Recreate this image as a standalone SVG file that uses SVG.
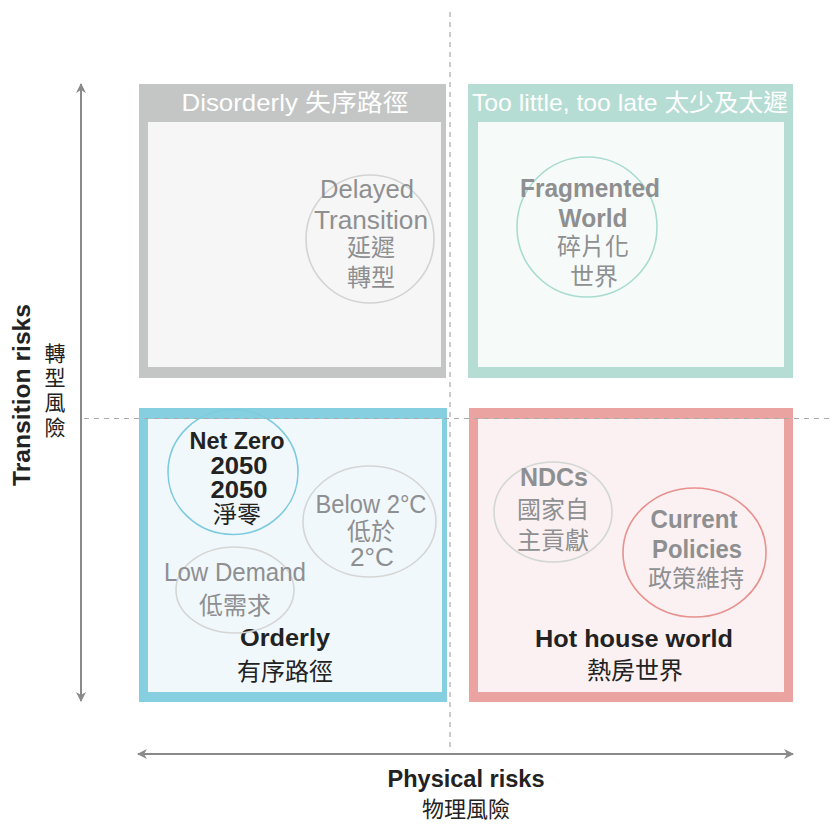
<svg xmlns="http://www.w3.org/2000/svg" width="832" height="824" viewBox="0 0 832 824">
<defs>
<marker id="ah" viewBox="0 0 10 10" refX="9" refY="5" markerWidth="10" markerHeight="10" markerUnits="userSpaceOnUse" orient="auto-start-reverse">
<path d="M0,0 L10,5 L0,10 L3,5 z" fill="#8a8a8a"/>
</marker>
</defs>
<style>
text { font-family: "Liberation Sans", Arial, "Noto Sans CJK TC", sans-serif; text-anchor: middle; }
.cjk { font-family: "Noto Sans CJK TC", "Liberation Sans", sans-serif; }
.hdr { fill: #ffffff; font-size: 24px; }
.g { fill: #8e8f91; font-size: 25px; }
.gc { fill: #8e8f91; font-size: 24px; }
.gb { fill: #8e8f91; font-size: 25px; font-weight: bold; }
.k { fill: #222222; font-size: 24px; }
.kb { fill: #222222; font-size: 24px; font-weight: bold; }
.c { fill: none; stroke-width: 1.6; }
.axis { stroke: #8a8a8a; stroke-width: 2; fill: none; }
.dash { stroke: #aaaaaa; stroke-width: 1.2; stroke-dasharray: 5 5; fill: none; }
</style>

<g id="q-disorderly">
<rect x="139" y="84" width="307" height="294" fill="#c4c6c5"/>
<rect x="148" y="122" width="293" height="245" fill="#f6f6f6"/>
<text class="hdr" x="295" y="111" textLength="227" lengthAdjust="spacingAndGlyphs">Disorderly 失序路徑</text>
</g>
<g id="q-toolittle">
<rect x="468" y="84" width="325" height="294" fill="#b6ddd4"/>
<rect x="478" y="122" width="306" height="245" fill="#f6fbfa"/>
<text class="hdr" x="630" y="111" textLength="316" lengthAdjust="spacingAndGlyphs">Too little, too late 太少及太遲</text>
</g>
<g id="q-orderly">
<rect x="139" y="408" width="308" height="294" fill="#86cfe1"/>
<rect x="148" y="419" width="294" height="273" fill="#f1f8fb"/>
<text class="kb" x="285" y="646" textLength="90" lengthAdjust="spacingAndGlyphs">Orderly</text>
<text class="k cjk" x="285" y="680">有序路徑</text>
</g>
<g id="q-hothouse">
<rect x="469" y="408" width="324" height="294" fill="#eba3a1"/>
<rect x="478" y="419" width="306" height="273" fill="#fbf1f2"/>
<text class="kb" x="634" y="647" textLength="198" lengthAdjust="spacingAndGlyphs">Hot house world</text>
<text class="k cjk" x="635" y="679">熱房世界</text>
</g>

<g id="connectors">
<line class="dash" x1="450" y1="12" x2="450" y2="752"/>
<line class="dash" x1="84" y1="418.5" x2="832" y2="418.5"/>
<line class="axis" x1="81" y1="701" x2="81" y2="84" marker-start="url(#ah)" marker-end="url(#ah)"/>
<line class="axis" x1="138" y1="754" x2="793" y2="754" marker-start="url(#ah)" marker-end="url(#ah)"/>
</g>

<g id="n-delayed">
<circle class="c" cx="370" cy="239" r="64" stroke="#d3d3d3"/>
<text class="g" x="367" y="198" textLength="94" lengthAdjust="spacingAndGlyphs">Delayed</text>
<text class="g" x="371" y="229" textLength="114" lengthAdjust="spacingAndGlyphs">Transition</text>
<text class="gc cjk" x="371" y="256">延遲</text>
<text class="gc cjk" x="371" y="286">轉型</text>
</g>
<g id="n-fragmented">
<circle class="c" cx="587" cy="227" r="70" stroke="#a9dccf"/>
<text class="gb" x="590" y="197" textLength="140" lengthAdjust="spacingAndGlyphs">Fragmented</text>
<text class="gb" x="593" y="227" textLength="69" lengthAdjust="spacingAndGlyphs">World</text>
<text class="gc cjk" x="593" y="255">碎片化</text>
<text class="gc cjk" x="594" y="285">世界</text>
</g>
<g id="n-netzero">
<ellipse class="c" cx="233" cy="472" rx="65" ry="62.5" stroke="#7ecbe0"/>
<text class="kb" x="237" y="449" textLength="95" lengthAdjust="spacingAndGlyphs">Net Zero</text>
<text class="kb" x="239" y="474" textLength="57" lengthAdjust="spacingAndGlyphs">2050</text>
<text class="kb" x="239" y="498" textLength="57" lengthAdjust="spacingAndGlyphs">2050</text>
<text class="k cjk" x="237" y="523">淨零</text>
</g>
<g id="n-below2">
<ellipse class="c" cx="369.5" cy="521.5" rx="66.5" ry="55.5" stroke="#d5d5d5"/>
<text class="g" x="371" y="513" textLength="111" lengthAdjust="spacingAndGlyphs">Below 2°C</text>
<text class="gc cjk" x="371" y="540">低於</text>
<text class="g" x="372" y="566" textLength="44" lengthAdjust="spacingAndGlyphs">2°C</text>
</g>
<g id="n-lowdemand">
<ellipse class="c" cx="235" cy="590" rx="59" ry="43" stroke="#d5d5d5"/>
<text class="g" x="235" y="581" textLength="142" lengthAdjust="spacingAndGlyphs">Low Demand</text>
<text class="gc cjk" x="235" y="614">低需求</text>
</g>
<g id="n-ndcs">
<ellipse class="c" cx="553" cy="512" rx="59" ry="50" stroke="#d2d7d4"/>
<text class="gb" x="554" y="486" textLength="68" lengthAdjust="spacingAndGlyphs">NDCs</text>
<text class="gc cjk" x="553" y="518">國家自</text>
<text class="gc cjk" x="553" y="549">主貢獻</text>
</g>
<g id="n-current">
<ellipse class="c" cx="694.5" cy="552.5" rx="71.5" ry="64.5" stroke="#e8918e"/>
<text class="gb" x="694" y="528" textLength="87" lengthAdjust="spacingAndGlyphs">Current</text>
<text class="gb" x="697" y="558" textLength="90" lengthAdjust="spacingAndGlyphs">Policies</text>
<text class="gc cjk" x="696" y="587">政策維持</text>
</g>

<g id="axis-labels">
<text class="kb" x="0" y="0" transform="translate(30,395) rotate(-90)" textLength="182" lengthAdjust="spacingAndGlyphs" style="font-size:23px">Transition risks</text>
<text class="k cjk" x="55" y="361" style="font-size:21px">轉</text>
<text class="k cjk" x="55" y="385" style="font-size:21px">型</text>
<text class="k cjk" x="55" y="410" style="font-size:21px">風</text>
<text class="k cjk" x="55" y="435" style="font-size:21px">險</text>
<text class="kb" x="466" y="787" textLength="157" lengthAdjust="spacingAndGlyphs" style="font-size:23px">Physical risks</text>
<text class="k cjk" x="466" y="817" style="font-size:22px">物理風險</text>
</g>
</svg>
